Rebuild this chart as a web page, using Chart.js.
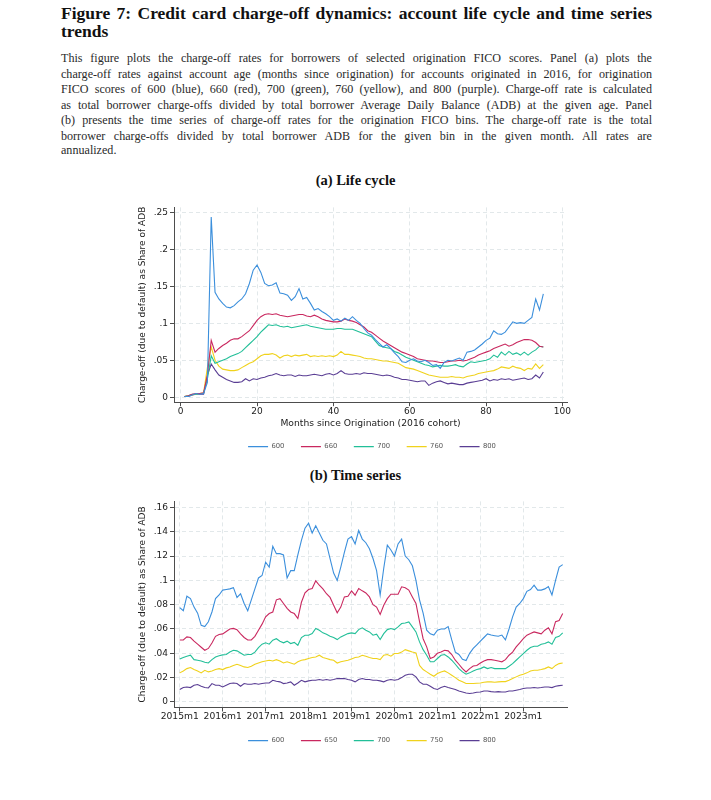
<!DOCTYPE html>
<html><head><meta charset="utf-8">
<script src="https://cdn.jsdelivr.net/npm/chart.js@4.4.1/dist/chart.umd.min.js"></script>
<style>
html,body{margin:0;padding:0;background:#fff}
body{width:711px;height:800px;position:relative;overflow:hidden}
.t{position:absolute;left:61px;width:591px;white-space:nowrap;text-align:justify;text-align-last:justify;font-family:"Liberation Serif","DejaVu Serif",serif}
.h{font-weight:bold;font-size:17.5px;line-height:20px;color:#111}
.c{font-size:12.1px;line-height:16px;color:#2a2a2a}
.left{text-align-last:left}
.p{position:absolute;left:0;width:711px;text-align:center;font-family:"Liberation Serif",serif;font-weight:bold;font-size:14.5px;line-height:18px;color:#111}
canvas{position:absolute}
</style></head><body>
<div class="t h" style="top:3px">Figure 7: Credit card charge-off dynamics: account life cycle and time series</div>
<div class="t h left" style="top:21px">trends</div>
<div class="t c" style="top:50px">This figure plots the charge-off rates for borrowers of selected origination FICO scores. Panel (a) plots the</div>
<div class="t c" style="top:65.5px">charge-off rates against account age (months since origination) for accounts originated in 2016, for origination</div>
<div class="t c" style="top:81px">FICO scores of 600 (blue), 660 (red), 700 (green), 760 (yellow), and 800 (purple). Charge-off rate is calculated</div>
<div class="t c" style="top:96.5px">as total borrower charge-offs divided by total borrower Average Daily Balance (ADB) at the given age. Panel</div>
<div class="t c" style="top:112px">(b) presents the time series of charge-off rates for the origination FICO bins. The charge-off rate is the total</div>
<div class="t c" style="top:127.5px">borrower charge-offs divided by total borrower ADB for the given bin in the given month. All rates are</div>
<div class="t c left" style="top:142px">annualized.</div>
<div class="p" style="top:171px">(a) Life cycle</div>
<div class="p" style="top:466px">(b) Time series</div>
<canvas id="ca" width="474" height="260" style="left:135px;top:200px"></canvas>
<canvas id="cb" width="474" height="260" style="left:135px;top:494px"></canvas>
<script>
// ---------- Panel (a): life cycle ----------
const agesA = [1,2,3,4,5,6,7,8,9,10,11,12,13,14,15,16,17,18,19,20,21,22,23,24,25,26,27,28,29,30,31,32,33,34,35,36,37,38,39,40,41,42,43,44,45,46,47,48,49,50,51,52,53,54,55,56,57,58,59,60,61,62,63,64,65,66,67,68,69,70,71,72,73,74,75,76,77,78,79,80,81,82,83,84,85,86,87,88,89,90,91,92,93,94,95];
const seriesLabelsA = ['600','660','700','760','800'];
const fico600A = [0.001,0.001,0.003,0.005,0.004,0.005,0.02,0.244,0.142,0.133,0.127,0.122,0.121,0.124,0.129,0.133,0.14,0.154,0.172,0.179,0.169,0.154,0.151,0.152,0.155,0.141,0.14,0.138,0.131,0.136,0.147,0.133,0.135,0.127,0.118,0.12,0.116,0.113,0.109,0.104,0.106,0.103,0.107,0.104,0.109,0.104,0.1,0.093,0.087,0.084,0.078,0.073,0.068,0.071,0.066,0.06,0.055,0.048,0.047,0.05,0.052,0.049,0.048,0.05,0.047,0.043,0.044,0.039,0.047,0.05,0.049,0.051,0.053,0.05,0.061,0.062,0.064,0.068,0.072,0.077,0.08,0.09,0.086,0.085,0.088,0.095,0.102,0.1,0.101,0.1,0.104,0.108,0.133,0.118,0.14];
const fico660A = [0.001,0.002,0.004,0.005,0.005,0.006,0.03,0.077,0.061,0.066,0.07,0.073,0.077,0.079,0.079,0.082,0.086,0.09,0.097,0.104,0.109,0.112,0.113,0.112,0.113,0.111,0.11,0.109,0.11,0.111,0.112,0.112,0.11,0.109,0.111,0.109,0.106,0.104,0.103,0.102,0.102,0.103,0.106,0.104,0.103,0.101,0.098,0.095,0.09,0.088,0.084,0.08,0.076,0.073,0.07,0.067,0.064,0.061,0.059,0.057,0.055,0.052,0.051,0.05,0.049,0.049,0.048,0.047,0.047,0.048,0.049,0.049,0.05,0.049,0.05,0.052,0.054,0.057,0.059,0.061,0.063,0.066,0.068,0.07,0.072,0.069,0.071,0.074,0.076,0.078,0.078,0.077,0.074,0.069,0.068];
const fico700A = [0.001,0.002,0.004,0.004,0.005,0.005,0.025,0.056,0.046,0.048,0.05,0.052,0.055,0.057,0.059,0.062,0.067,0.072,0.077,0.082,0.088,0.093,0.098,0.097,0.098,0.096,0.095,0.096,0.094,0.095,0.096,0.097,0.098,0.096,0.095,0.094,0.093,0.092,0.092,0.092,0.093,0.093,0.092,0.092,0.092,0.09,0.088,0.086,0.084,0.082,0.076,0.07,0.068,0.067,0.066,0.062,0.06,0.057,0.054,0.052,0.05,0.048,0.046,0.044,0.043,0.041,0.042,0.043,0.042,0.042,0.043,0.044,0.042,0.041,0.045,0.048,0.047,0.048,0.049,0.05,0.052,0.057,0.054,0.061,0.057,0.062,0.058,0.06,0.057,0.061,0.057,0.061,0.064,0.069,0.068];
const fico760A = [0.001,0.002,0.003,0.004,0.005,0.006,0.04,0.068,0.05,0.042,0.038,0.037,0.036,0.036,0.037,0.04,0.043,0.046,0.048,0.052,0.056,0.058,0.058,0.059,0.057,0.053,0.056,0.057,0.055,0.057,0.056,0.057,0.058,0.055,0.056,0.055,0.056,0.055,0.056,0.055,0.057,0.062,0.058,0.058,0.057,0.056,0.055,0.053,0.052,0.052,0.051,0.05,0.049,0.049,0.048,0.047,0.046,0.043,0.04,0.039,0.038,0.036,0.034,0.032,0.03,0.029,0.028,0.027,0.027,0.027,0.028,0.027,0.027,0.026,0.028,0.029,0.03,0.032,0.033,0.034,0.035,0.036,0.038,0.041,0.04,0.039,0.042,0.04,0.039,0.036,0.039,0.038,0.045,0.039,0.044];
const fico800A = [0.001,0.001,0.003,0.004,0.004,0.004,0.03,0.045,0.037,0.03,0.027,0.024,0.022,0.02,0.02,0.021,0.025,0.022,0.025,0.024,0.026,0.027,0.029,0.03,0.032,0.03,0.029,0.03,0.03,0.028,0.03,0.029,0.029,0.03,0.031,0.03,0.029,0.031,0.032,0.03,0.032,0.036,0.032,0.031,0.031,0.032,0.031,0.033,0.032,0.032,0.031,0.03,0.029,0.03,0.029,0.027,0.026,0.024,0.024,0.023,0.022,0.021,0.022,0.022,0.016,0.019,0.021,0.022,0.02,0.018,0.019,0.018,0.017,0.017,0.019,0.02,0.021,0.022,0.023,0.025,0.022,0.024,0.023,0.025,0.024,0.025,0.023,0.024,0.025,0.026,0.024,0.025,0.03,0.026,0.034];
const xTicksA = [0,20,40,60,80,100];
const xTickLabelsA = ['0','20','40','60','80','100'];
const yTicksA = [0,0.05,0.1,0.15,0.2,0.25];
const yTickLabelsA = ['0','.05','.1','.15','.2','.25'];

// ---------- Panel (b): time series ----------
const yearsB = [2015,2016,2017,2018,2019,2020,2021,2022,2023];
const periodsB = [];
yearsB.forEach(y => { for (let m = 1; m <= 12; m++) periodsB.push(y + 'm' + m); });
const seriesLabelsB = ['600','650','700','750','800'];
const fico600B = [.0776,.075,.087,.085,.078,.073,.063,.062,.066,.074, .085,.088,.092,.0925,.093,.094,.086,.089,.081,.075, .084,.093,.102,.104,.115,.111,.128,.122,.122,.121, .102,.108,.108,.121,.133,.143,.147,.139,.145,.139, .133,.13,.118,.106,.1,.111,.123,.134,.136,.13, .141,.134,.131,.126,.118,.108,.088,.11,.129,.125, .12,.13,.134,.12,.117,.112,.1,.084,.073,.059, .056,.055,.059,.06,.06,.062,.051,.041,.039,.035, .034,.04,.044,.047,.05,.053,.056,.055,.0545,.054, .055,.051,.06,.07,.078,.081,.085,.091,.0925,.096, .092,.092,.093,.095,.088,.1,.111,.113];
const fico650B = [.051,.051,.0535,.053,.05,.0475,.045,.0425,.044,.0485, .054,.0555,.056,.058,.06,.0605,.0595,.056,.053,.051, .051,.054,.059,.064,.07,.0727,.074,.084,.085,.081, .077,.074,.0727,.0686,.082,.0897,.0925,.0933,.0996,.096, .093,.089,.086,.0796,.0733,.078,.0864,.087,.0914,.0878, .0933,.0914,.0897,.0864,.08,.078,.072,.0796,.085,.0886, .0886,.0886,.0947,.094,.092,.0864,.081,.066,.052,.0453, .0357,.037,.04,.041,.0425,.042,.039,.0343,.031,.0274, .0247,.0274,.0296,.03,.032,.0337,.0348,.0348,.0343,.0337, .033,.0348,.0384,.041,.0453,.0486,.052,.0549,.0562,.0576, .0568,.056,.059,.061,.056,.066,.067,.0727];
const fico700B = [.0354,.0365,.0376,.0384,.0348,.0343,.0337,.0326,.032,.0348, .037,.038,.0387,.039,.041,.0425,.042,.0403,.0384,.039, .039,.041,.0447,.0475,.0486,.0475,.0508,.052,.05,.0486, .05,.048,.049,.0466,.053,.0549,.0549,.0562,.0604,.059, .0568,.0557,.054,.053,.0513,.0535,.0549,.0562,.0568,.0562, .0595,.061,.059,.0576,.0549,.0557,.0513,.0562,.0595,.0604, .0595,.0617,.0645,.065,.0658,.0617,.0576,.0494,.043,.0384, .033,.033,.0357,.0384,.039,.037,.0343,.031,.0274,.0247, .0228,.0239,.0255,.0266,.0274,.0288,.0274,.0283,.0274,.0274, .0274,.0274,.0294,.0315,.0343,.037,.0398,.0425,.0447,.0458, .0458,.0475,.048,.0494,.0475,.053,.054,.0568];
const fico750B = [.0239,.0255,.0274,.0283,.0266,.0255,.0239,.026,.0247,.0255, .0266,.0274,.0266,.028,.0288,.03,.031,.03,.0288,.0283, .0294,.031,.032,.033,.0337,.0343,.0337,.0348,.0337,.032, .033,.032,.031,.033,.0343,.0348,.0357,.0365,.037,.0384, .0365,.0357,.0348,.0343,.032,.033,.0337,.0343,.0354,.0365, .037,.0384,.0376,.0365,.0357,.0357,.0348,.0384,.039,.0376, .0398,.0398,.041,.043,.042,.041,.0403,.03,.0266,.0247, .0228,.0211,.0233,.0247,.0255,.0239,.022,.02,.0178,.0165, .0151,.0151,.0151,.0154,.0156,.0162,.0165,.0165,.0162,.0165, .0167,.0167,.0178,.0192,.0206,.022,.0228,.0239,.0255,.026, .026,.0266,.0274,.0288,.0274,.03,.0315,.032];
const fico800B = [.0102,.0118,.0123,.0118,.0137,.0143,.0129,.0118,.0115,.0151, .0137,.0137,.0123,.0137,.0151,.0156,.0151,.0129,.0151,.0145, .0145,.0151,.0145,.0151,.0156,.0156,.0178,.017,.0165,.0151, .0156,.0165,.0137,.0156,.0178,.0165,.0173,.0178,.0178,.0184, .0178,.0184,.0178,.0184,.0192,.0192,.0192,.0184,.0178,.0165, .0184,.0192,.0184,.0184,.0178,.0178,.0173,.0165,.0178,.0184, .0178,.0184,.02,.022,.0228,.0228,.0206,.0165,.0145,.0145, .0129,.011,.0102,.0118,.0129,.0118,.011,.0102,.009,.0082, .0074,.0069,.0074,.008,.0082,.009,.009,.0085,.0082,.0085, .0082,.0082,.009,.009,.0096,.0102,.011,.0115,.0115,.0118, .0115,.0118,.0123,.0123,.0118,.0129,.0134,.0137];
const xTicksB = [0,12,24,36,48,60,72,84,96];
const xTickLabelsB = ['2015m1','2016m1','2017m1','2018m1','2019m1','2020m1','2021m1','2022m1','2023m1'];
const yTicksB = [0,0.02,0.04,0.06,0.08,0.1,0.12,0.14,0.16];
const yTickLabelsB = ['0','.02','.04','.06','.08','.1','.12','.14','.16'];

const colors = ['#3b8fdc','#c9285f','#22bf98','#f0d21c','#5a3e94'];
const yTitle = 'Charge-off (due to default) as Share of ADB';
const FONT = 'DejaVu Sans';
const AXIS = '#4d4d4d';
const GRID = '#e2e8ea';

function fixedTicks(ticks, labels){
  return {
    afterBuildTicks: s => { s.ticks = ticks.map(v => ({value: v})); },
    callback: v => { const i = ticks.findIndex(t => Math.abs(t - v) < 1e-9); return i >= 0 ? labels[i] : ''; }
  };
}

function makeChart(id, xs, seriesList, seriesLabels, opts){
  const xt = fixedTicks(opts.xTicks, opts.xLabels);
  const yt = fixedTicks(opts.yTicks, opts.yLabels);
  const datasets = seriesList.map((vals, k) => ({
    label: seriesLabels[k],
    data: vals.map((v, i) => ({x: xs[i], y: v})),
    borderColor: colors[k], backgroundColor: colors[k],
    borderWidth: 1.1, pointRadius: 0, pointStyle: 'line', tension: 0, fill: false
  }));
  return new Chart(document.getElementById(id), {
    type: 'line',
    data: {datasets},
    options: {
      responsive: false, animation: false, devicePixelRatio: 1,
      layout: {padding: {top: 7, left: 0, right: 0, bottom: 0}},
      plugins: {
        tooltip: {enabled: false},
        legend: {
          position: 'bottom',
          labels: {usePointStyle: true, pointStyle: 'line', pointStyleWidth: 20, padding: 16.5,
                   color: '#555', font: {family: FONT, size: 6.8}}
        }
      },
      scales: {
        x: {
          type: 'linear', position: 'bottom', min: opts.xMin, max: opts.xMax,
          afterBuildTicks: xt.afterBuildTicks,
          afterFit: s => { s.height = opts.xHeight; },
          ticks: {autoSkip: false, maxRotation: 0, padding: 0, color: '#222', font: {family: FONT, size: opts.xFont}, callback: xt.callback},
          grid: {color: GRID, tickColor: AXIS, tickLength: 4, tickBorderDash: [], lineWidth: 1},
          border: {display: true, color: AXIS, width: 1, dash: [4, 3]},
          title: opts.xTitle ? {display: true, text: opts.xTitle, color: '#222', font: {family: FONT, size: 9.2}, padding: {top: 0, bottom: opts.xTitlePad}} : {display: false}
        },
        y: {
          type: 'linear', position: 'left', min: opts.yMin, max: opts.yMax,
          afterBuildTicks: yt.afterBuildTicks,
          afterFit: s => { s.width = 39; },
          ticks: {autoSkip: false, padding: 2, color: '#222', font: {family: FONT, size: 9}, callback: yt.callback},
          grid: {color: GRID, tickColor: AXIS, tickLength: 4, tickBorderDash: [], lineWidth: 1},
          border: {display: true, color: AXIS, width: 1, dash: [4, 3]},
          title: {display: true, text: yTitle, color: '#222', font: {family: FONT, size: 9}, padding: {top: 2, bottom: 0}}
        },
        yPad: {
          type: 'linear', position: 'right', display: true,
          afterFit: s => { s.width = 42; },
          ticks: {display: false}, grid: {display: false, drawTicks: false}, border: {display: false}
        }
      }
    }
  });
}

makeChart('ca', agesA, [fico600A, fico660A, fico700A, fico760A, fico800A], seriesLabelsA, {
  xTicks: xTicksA, xLabels: xTickLabelsA, yTicks: yTicksA, yLabels: yTickLabelsA,
  xMin: -1.75, xMax: 101.2, yMin: -0.0068, yMax: 0.257, xHeight: 24.5, xFont: 9,
  xTitle: 'Months since Origination (2016 cohort)', xTitlePad: -2
});

const idxB = periodsB.map((p, i) => i);
makeChart('cb', idxB, [fico600B, fico650B, fico700B, fico750B, fico800B], seriesLabelsB, {
  xTicks: xTicksB, xLabels: xTickLabelsB, yTicks: yTicksB, yLabels: yTickLabelsB,
  xMin: -1.6, xMax: 108.2, yMin: -0.0046, yMax: 0.165, xHeight: 13.2, xFont: 9.2,
  xTitle: null
});
</script>
</body></html>
